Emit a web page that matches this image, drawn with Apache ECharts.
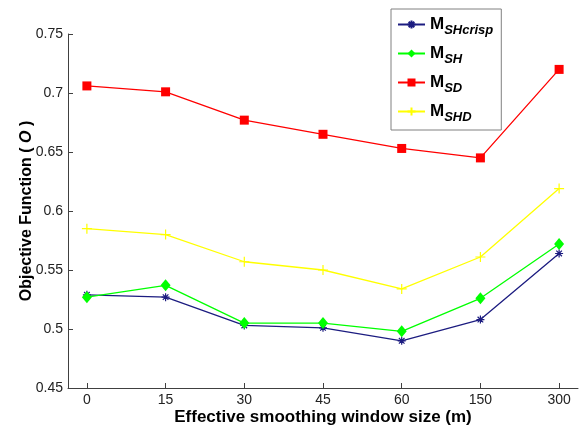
<!DOCTYPE html>
<html><head><meta charset="utf-8">
<script src="https://cdn.jsdelivr.net/npm/echarts@6/dist/echarts.min.js"></script>
<style>html,body{margin:0;padding:0;background:#fff}#c{width:579px;height:426px}</style>
</head><body><div id="c"></div>
<script>
const categories = ['0','15','30','45','60','150','300'];
const mSHcrisp = [0.529, 0.527, 0.503, 0.501, 0.490, 0.508, 0.564];
const mSH = [0.527, 0.537, 0.505, 0.505, 0.498, 0.526, 0.572];
const mSD = [0.706, 0.701, 0.677, 0.665, 0.653, 0.645, 0.720];
const mSHD = [0.585, 0.580, 0.557, 0.550, 0.534, 0.561, 0.619];
const yTicks = [0.45, 0.5, 0.55, 0.6, 0.65, 0.7, 0.75];

const star = 'path://M5,0L5,10M0,5L10,5M1.5,1.5L8.5,8.5M8.5,1.5L1.5,8.5';
const plus = 'path://M5,0L5,10M0,5L10,5';

function pts(arr){ return arr.map((v,i)=>[i,v]); }

const chart = echarts.init(document.getElementById('c'));
const labRich = {
  m:{fontSize:17,fontWeight:'bold',fontFamily:'Liberation Sans',color:'#000'},
  s:{fontSize:13,fontWeight:'bold',fontStyle:'italic',fontFamily:'Liberation Sans',color:'#000',padding:[12,0,0,0]}
};
const names = {a:'SHcrisp', b:'SH', c:'SD', d:'SHD'};
chart.setOption({
  animation:false,
  grid:{left:68,right:1,top:34,bottom:38,outerBoundsMode:'none',containLabel:false},
  legend:{
    orient:'vertical', left:391, top:9, width:106,
    borderColor:'#808080', borderWidth:1, padding:[7,8,6,6],
    itemGap:8, itemWidth:27, itemHeight:10,
    data:['a','b','c','d'],
    formatter:n=>'{m|M}{s|'+names[n]+'}',
    textStyle:{rich:labRich}
  },
  xAxis:{
    type:'value', min:-0.24, max:6.24,
    axisLine:{show:true,onZero:false,lineStyle:{color:'#404040'}},
    axisTick:{show:true,inside:true,length:5,lineStyle:{color:'#404040'},customValues:[0,1,2,3,4,5,6]},
    axisLabel:{customValues:[0,1,2,3,4,5,6],formatter:v=>categories[Math.round(v)],fontSize:14,color:'#222',fontFamily:'Liberation Sans',margin:5},
    splitLine:{show:false},
    name:'Effective smoothing window size (m)', nameLocation:'middle', nameGap:21, nameMoveOverlap:false,
    nameTextStyle:{fontSize:17,fontWeight:'bold',color:'#000',fontFamily:'Liberation Sans'}
  },
  yAxis:{
    type:'value', min:0.45, max:0.75, interval:0.05,
    axisLine:{show:true,onZero:false,lineStyle:{color:'#404040'}},
    axisTick:{show:true,inside:true,length:5,lineStyle:{color:'#404040'}},
    axisLabel:{fontSize:14,color:'#222',fontFamily:'Liberation Sans',margin:5,formatter:v=>{const t=yTicks.find(x=>Math.abs(x-v)<1e-6);return t===undefined?'':String(t);}},
    splitLine:{show:false},
    name:'{b|Objective Function ( }{i|O}{b| )}', nameLocation:'middle', nameGap:33, nameMoveOverlap:false,
    nameTextStyle:{rich:{
      b:{fontSize:16,fontWeight:'bold',color:'#000',fontFamily:'Liberation Sans'},
      i:{fontSize:16,fontWeight:'bold',fontStyle:'italic',color:'#000',fontFamily:'Liberation Sans'}
    }}
  },
  series:[
    {name:'a',type:'line',data:pts(mSHcrisp),symbol:star,symbolSize:8,
     lineStyle:{color:'#1c1c80',width:1.3},itemStyle:{color:'#1c1c80',borderColor:'#1c1c80',borderWidth:1.2}},
    {name:'b',type:'line',data:pts(mSH),symbol:'diamond',symbolSize:[10,12],
     lineStyle:{color:'#00ff00',width:1.3},itemStyle:{color:'#00ff00'}},
    {name:'c',type:'line',data:pts(mSD),symbol:'rect',symbolSize:9,
     lineStyle:{color:'#ff0000',width:1.3},itemStyle:{color:'#ff0000'}},
    {name:'d',type:'line',data:pts(mSHD),symbol:plus,symbolSize:10,
     lineStyle:{color:'#ffff00',width:1.3},itemStyle:{color:'#ffff00',borderColor:'#ffff00',borderWidth:1.2}}
  ]
});
</script></body></html>
